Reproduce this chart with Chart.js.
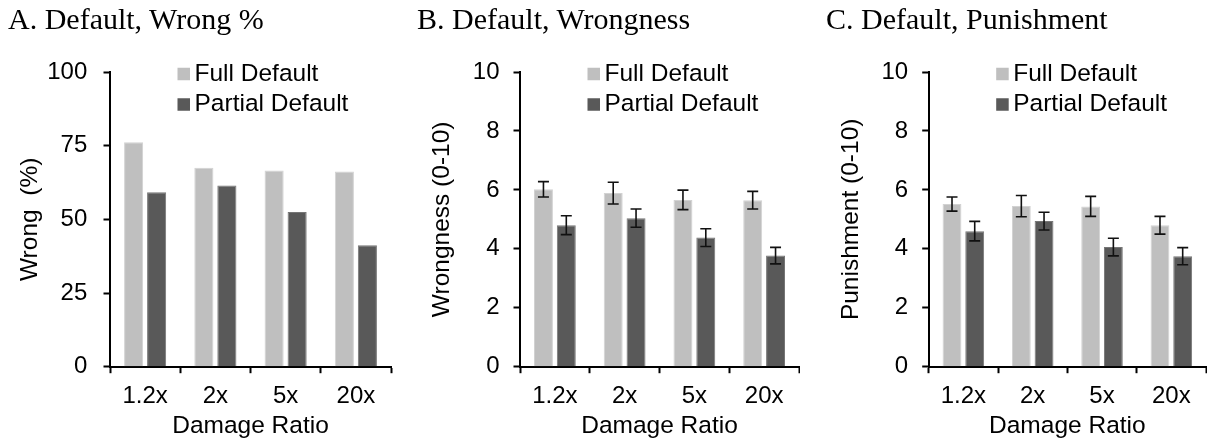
<!DOCTYPE html>
<html><head><meta charset="utf-8">
<script src="https://cdn.jsdelivr.net/npm/chart.js@4"></script>
<style>
body{margin:0;background:#fff;width:1207px;height:442px;overflow:hidden;position:relative}
.panel{position:absolute;top:0;height:442px}
.title{position:absolute;top:4px;font-family:"Liberation Serif","Times New Roman",serif;font-size:30px;line-height:30px;white-space:nowrap;color:#000}
canvas{display:block}
</style></head><body>
<div class="panel" style="left:0px;width:400px"><canvas id="cA" width="400" height="442"></canvas></div>
<div class="panel" style="left:400px;width:400px"><canvas id="cB" width="400" height="442"></canvas></div>
<div class="panel" style="left:800px;width:407px"><canvas id="cC" width="407" height="442"></canvas></div>
<div class="title" style="left:8px">A. Default, Wrong %</div>
<div class="title" style="left:417px">B. Default, Wrongness</div>
<div class="title" style="left:826px">C. Default, Punishment</div>
<script>
const categories = ['1.2x', '2x', '5x', '20x'];
const seriesNames = ['Full Default', 'Partial Default'];
const wrongFull = [76.2, 67.5, 66.6, 66.2];
const wrongPartial = [59.2, 61.5, 52.5, 41.2];
const wrongnessFull = [6.02, 5.89, 5.66, 5.65];
const wrongnessFullErr = [0.26, 0.37, 0.33, 0.30];
const wrongnessPartial = [4.80, 5.04, 4.38, 3.77];
const wrongnessPartialErr = [0.32, 0.31, 0.30, 0.28];
const punishFull = [5.52, 5.45, 5.44, 4.80];
const punishFullErr = [0.24, 0.36, 0.34, 0.30];
const punishPartial = [4.60, 4.94, 4.06, 3.75];
const punishPartialErr = [0.33, 0.30, 0.30, 0.29];
const percentMax = 100, percentStep = 25;
const ratingMax = 10, ratingStep = 2;

const SANS = '"Liberation Sans", Arial, sans-serif';
const LIGHT = '#bfbfbf', DARK = '#595959';
const LIGHT_EDGE = '#d2d2d2', DARK_EDGE = '#767676';

const errorBarPlugin = {
  id: 'errorBars',
  afterDatasetsDraw(chart) {
    const ctx = chart.ctx, y = chart.scales.y;
    chart.data.datasets.forEach((ds, i) => {
      if (!ds.errors) return;
      const meta = chart.getDatasetMeta(i);
      meta.data.forEach((bar, j) => {
        const v = ds.data[j], e = ds.errors[j];
        const yt = y.getPixelForValue(v + e), yb = y.getPixelForValue(v - e);
        const x = bar.x, hw = 5.5;
        ctx.save();
        ctx.strokeStyle = '#111';
        ctx.lineWidth = 1.6;
        ctx.beginPath();
        ctx.moveTo(x, yt); ctx.lineTo(x, yb);
        ctx.moveTo(x - hw, yt); ctx.lineTo(x + hw, yt);
        ctx.moveTo(x - hw, yb); ctx.lineTo(x + hw, yb);
        ctx.stroke();
        ctx.restore();
      });
    });
  }
};

const boxLegendPlugin = {
  id: 'boxLegend',
  afterDraw(chart) {
    const {ctx, chartArea} = chart;
    const x0 = chartArea.left + 67.5;
    chart.data.datasets.forEach((ds, i) => {
      const cy = chartArea.top + 2 + i * 30.5;
      ctx.save();
      ctx.fillStyle = ds.backgroundColor;
      ctx.fillRect(x0, cy - 6.25, 12.5, 12.5);
      ctx.fillStyle = '#000';
      ctx.font = '24.5px ' + SANS;
      ctx.textBaseline = 'middle';
      ctx.textAlign = 'left';
      ctx.fillText(ds.label, x0 + 17, cy);
      ctx.restore();
    });
  }
};

function makeChart(id, full, partial, fullErr, partialErr, yMax, yStep, yTitle, g) {
  const datasets = [
    {label: seriesNames[0], data: full, backgroundColor: LIGHT, borderColor: LIGHT_EDGE, errors: fullErr},
    {label: seriesNames[1], data: partial, backgroundColor: DARK, borderColor: DARK_EDGE, errors: partialErr}
  ];
  datasets.forEach(d => { d.categoryPercentage = 0.655; d.barPercentage = 0.83; d.borderWidth = 1; });
  return new Chart(document.getElementById(id), {
    type: 'bar',
    data: {labels: categories, datasets},
    plugins: [errorBarPlugin, boxLegendPlugin],
    options: {
      responsive: false,
      animation: false,
      events: [],
      layout: {padding: {top: 72, right: g.right, bottom: 0, left: 0}},
      plugins: {legend: {display: false}, tooltip: {enabled: false}},
      scales: {
        x: {
          grid: {offset: true, drawOnChartArea: false, drawTicks: true, tickLength: 6.5, tickColor: '#000', tickWidth: 2},
          border: {display: true, color: '#000', width: 2},
          ticks: {color: '#000', font: {family: SANS, size: 24}, padding: 8.4},
          title: {display: true, text: 'Damage Ratio', color: '#000', font: {family: SANS, size: 24.5}, padding: {top: 0, bottom: 1.3}},
          afterFit(s) { s.height = 75.3; }
        },
        y: {
          min: 0, max: yMax,
          grid: {drawOnChartArea: false, drawTicks: true, tickLength: 6.5, tickColor: '#000', tickWidth: 2},
          border: {display: true, color: '#000', width: 2},
          ticks: {stepSize: yStep, color: '#000', font: {family: SANS, size: 24}, padding: g.labelPad},
          title: {display: true, text: yTitle, color: '#000', font: {family: SANS, size: 24.5}, padding: {top: g.titlePad, bottom: 0}},
          afterFit(s) { s.width = g.yWidth; }
        }
      }
    }
  });
}

makeChart('cA', wrongFull, wrongPartial, null, null, percentMax, percentStep, 'Wrong  (%)', {yWidth: 110, right: 9, labelPad: 16.2, titlePad: 15.3});
makeChart('cB', wrongnessFull, wrongnessPartial, wrongnessFullErr, wrongnessPartialErr, ratingMax, ratingStep, 'Wrongness (0-10)', {yWidth: 120, right: 1, labelPad: 14, titlePad: 27.8});
makeChart('cC', punishFull, punishPartial, punishFullErr, punishPartialErr, ratingMax, ratingStep, 'Punishment (0-10)', {yWidth: 128.7, right: 1, labelPad: 14, titlePad: 36.3});
</script>
</body></html>
